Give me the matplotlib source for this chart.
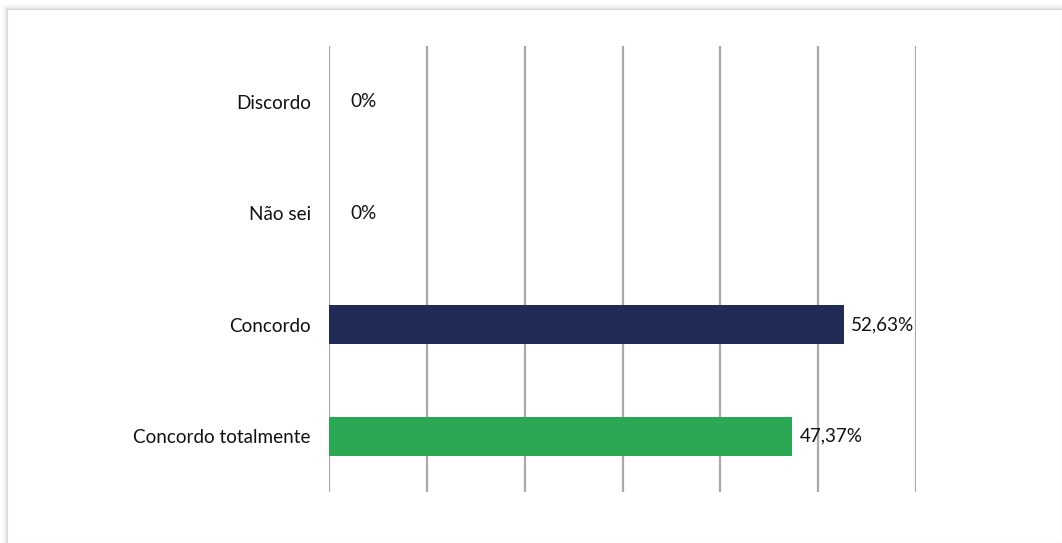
import matplotlib
matplotlib.use("Agg")
import matplotlib.pyplot as plt
from matplotlib.patches import Rectangle

categories = ["Concordo totalmente", "Concordo", "Não sei", "Discordo"]
values = [47.37, 52.63, 0.0, 0.0]
value_labels = ["47,37%", "52,63%", "0%", "0%"]
bar_colors = ["#2aa853", "#202c56", "#202c56", "#202c56"]
grid_ticks = [0, 10, 20, 30, 40, 50, 60]

plt.rcParams["font.family"] = ["Lato", "DejaVu Sans"]
FS = 13.6

fig = plt.figure(figsize=(10.62, 5.43), dpi=100)

# soft drop shadow around the chart frame (top and left edges)
x0, y0 = 7 / 1062, 0.0
w, h = 1 - x0, 1 - 9 / 543
for i, a in enumerate([0.03, 0.05, 0.07, 0.09]):
    off = (4 - i) * 1.2
    fig.patches.append(Rectangle((x0 - off / 1062, y0), w + off / 1062, h + off / 543,
                                 transform=fig.transFigure, facecolor="#888888",
                                 alpha=a, edgecolor="none", zorder=-3))
fig.patches.append(Rectangle((x0, y0), w, h, transform=fig.transFigure,
                             facecolor="white", edgecolor="#d9d9d9", linewidth=0.8, zorder=-2))

ax = fig.add_axes([329 / 1062, 1 - 492 / 543, (916 - 329) / 1062, (492 - 46) / 543])
ax.set_zorder(2)
ax.set_facecolor("none")
y = range(len(categories))
ax.barh(y, values, height=0.35, color=bar_colors, zorder=3)
ax.set_xlim(0, 60)
ax.set_ylim(-0.5, len(categories) - 0.5)
ax.set_xticks(grid_ticks)
ax.set_xticklabels([])
ax.tick_params(axis="x", length=0)
ax.tick_params(axis="y", length=0, pad=13, labelsize=FS, labelcolor="#111111")
ax.set_yticks(list(y))
ax.set_yticklabels(categories)
ax.grid(axis="x", color="#a9a9a9", linewidth=1.6, zorder=1)
for s in ax.spines.values():
    s.set_visible(False)

for yi, v, lab in zip(y, values, value_labels):
    off = 21 if v == 0 else 7
    ax.annotate(lab, (v, yi), xytext=(off, 0), textcoords="offset pixels",
                va="center", ha="left", fontsize=FS, color="#111111")

fig.savefig("out.png", dpi=100)
